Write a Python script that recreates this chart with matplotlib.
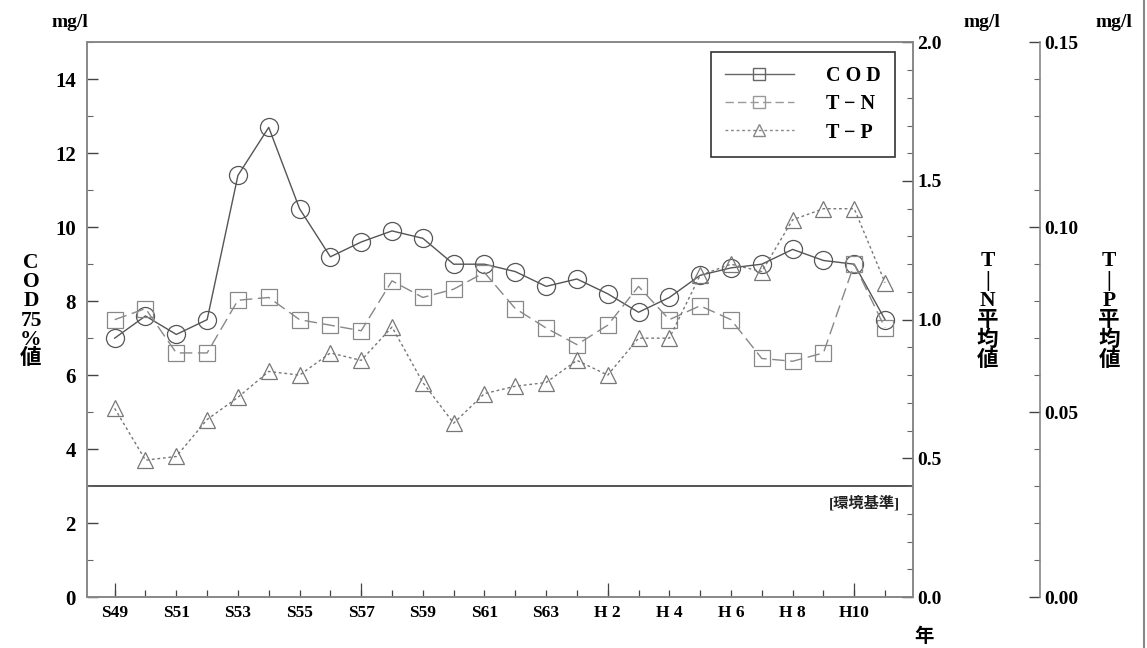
import matplotlib
matplotlib.use("Agg")
import matplotlib.pyplot as plt
from matplotlib.lines import Line2D
from matplotlib.ticker import MultipleLocator, FixedLocator, FormatStrFormatter

plt.rcParams['font.family'] = ['Liberation Serif', 'Noto Sans CJK JP']

# years S49..S63, H1..H11
years = list(range(26))
year_labels = ['S49', '', 'S51', '', 'S53', '', 'S55', '', 'S57', '', 'S59', '', 'S61', '',
               'S63', '', 'H 2', '', 'H 4', '', 'H 6', '', 'H 8', '', 'H10', '']

cod = [7.0, 7.6, 7.1, 7.5, 11.4, 12.7, 10.5, 9.2, 9.6, 9.9, 9.7, 9.0, 9.0,
       8.8, 8.4, 8.6, 8.2, 7.7, 8.1, 8.7, 8.9, 9.0, 9.4, 9.1, 9.0, 7.5]
tn = [1.00, 1.04, 0.88, 0.88, 1.07, 1.08, 1.00, 0.98, 0.96, 1.14, 1.08, 1.11, 1.17,
      1.04, 0.97, 0.91, 0.98, 1.12, 1.00, 1.05, 1.00, 0.86, 0.85, 0.88, 1.20, 0.97]
tp = [0.051, 0.037, 0.038, 0.048, 0.054, 0.061, 0.060, 0.066, 0.064, 0.073, 0.058,
      0.047, 0.055, 0.057, 0.058, 0.064, 0.060, 0.070, 0.070, 0.087, 0.090, 0.088,
      0.102, 0.105, 0.105, 0.085]
standard_cod = 3

fig = plt.figure(figsize=(11.47, 6.48), dpi=100)
ax = fig.add_axes([0.0758, 0.0787, 0.720, 0.856])
ax2 = ax.twinx()
ax3 = ax.twinx()

ax.set_xlim(-0.9, 25.9)
ax.set_ylim(0, 15)
ax2.set_ylim(0, 2.0)
ax3.set_ylim(0, 0.15)

# environmental standard
ax.axhline(standard_cod, color='#444444', lw=1.3, zorder=1)
ax.text(25.5, standard_cod - 0.25, '[環境基準]', ha='right', va='top',
        fontsize=11, fontweight='bold', color='#222222')

ax.plot(years, cod, '-', color='#555555', lw=1.0, marker='o', ms=13,
        mfc='none', mec='#555555', mew=0.9, zorder=3)
ax2.plot(years, tn, color='#888888', lw=1.0, ls=(0, (9, 4)), marker='s', ms=11,
         mfc='none', mec='#888888', mew=0.9, zorder=3)
ax3.plot(years, tp, color='#777777', lw=1.0, ls=(0, (2, 2)), marker='^', ms=11,
         mfc='none', mec='#777777', mew=0.9, zorder=3)

# x axis ticks
ax.set_xticks(years)
ax.set_xticklabels(year_labels, fontsize=12.5, fontweight='bold')
ax.xaxis.set_minor_locator(FixedLocator([0, 8, 16, 24]))
ax.xaxis.remove_overlapping_locs = False
ax.tick_params(axis='x', which='major', direction='in', length=5, width=0.9,
               color='#444444', pad=6, top=False)
ax.tick_params(axis='x', which='minor', direction='in', length=10, width=0.9,
               color='#444444', top=False)

# left axis
ax.yaxis.set_major_locator(MultipleLocator(2))
ax.yaxis.set_minor_locator(MultipleLocator(1))
ax.tick_params(axis='y', which='major', direction='in', length=8, width=1.0,
               labelsize=15, color='#444444', pad=8)
ax.tick_params(axis='y', which='minor', direction='in', length=4, width=0.8,
               color='#666666')
for t in ax.get_yticklabels():
    t.set_fontweight('bold')

# T-N axis
ax2.yaxis.set_major_locator(MultipleLocator(0.5))
ax2.yaxis.set_minor_locator(MultipleLocator(0.1))
ax2.yaxis.set_major_formatter(FormatStrFormatter('%.1f'))
ax2.tick_params(axis='y', which='major', direction='in', length=8, width=1.0,
                labelsize=14, color='#444444', pad=3)
ax2.tick_params(axis='y', which='minor', direction='in', length=4, width=0.8,
                color='#666666')
for t in ax2.get_yticklabels():
    t.set_fontweight('bold')

# T-P axis
ax3.spines['right'].set_position(('axes', 1.154))
ax3.spines['top'].set_visible(False)
ax3.spines['bottom'].set_visible(False)
ax3.spines['left'].set_visible(False)
ax3.yaxis.set_major_locator(MultipleLocator(0.05))
ax3.yaxis.set_minor_locator(MultipleLocator(0.01))
ax3.yaxis.set_major_formatter(FormatStrFormatter('%.2f'))
ax3.tick_params(axis='y', which='major', direction='in', length=8, width=1.0,
                labelsize=14, color='#444444', pad=3)
ax3.tick_params(axis='y', which='minor', direction='in', length=4, width=0.8,
                color='#666666')
for t in ax3.get_yticklabels():
    t.set_fontweight('bold')

for a in (ax, ax2):
    for s in a.spines.values():
        s.set_color('#888888')
        s.set_linewidth(1.2)
ax3.spines['right'].set_color('#888888')
ax3.spines['right'].set_linewidth(1.2)

# legend
handles = [
    Line2D([], [], color='#666666', lw=1.0, marker='s', ms=8, mfc='none'),
    Line2D([], [], color='#999999', lw=1.0, ls=(0, (6, 3)), marker='s', ms=8, mfc='none'),
    Line2D([], [], color='#888888', lw=1.0, ls=(0, (2, 2)), marker='^', ms=8, mfc='none'),
]
leg = ax3.legend(handles, ['C O D', 'T − N', 'T − P'], loc='upper right',
                 bbox_to_anchor=(0.978, 0.982), borderaxespad=0,
                 fancybox=False, framealpha=1,
                 edgecolor='#333333', handlelength=3.4, borderpad=0.7,
                 labelspacing=0.4, handletextpad=1.6,
                 prop={'size': 14.5, 'weight': 'bold'})
leg.get_frame().set_linewidth(1.2)
leg.set_zorder(10)

# axis titles
fig.text(0.045, 0.965, 'mg/l', fontsize=14, fontweight='bold', ha='left', va='center')
fig.text(0.840, 0.965, 'mg/l', fontsize=14, fontweight='bold', ha='left', va='center')
fig.text(0.955, 0.965, 'mg/l', fontsize=14, fontweight='bold', ha='left', va='center')
fig.text(0.027, 0.52, 'C\nO\nD\n75\n%\n値', fontsize=15.5, fontweight='bold',
         ha='center', va='center', linespacing=0.95)
fig.text(0.861, 0.52, 'T\n|\nN\n平\n均\n値', fontsize=15.5, fontweight='bold',
         ha='center', va='center', linespacing=1.0)
fig.text(0.967, 0.52, 'T\n|\nP\n平\n均\n値', fontsize=15.5, fontweight='bold',
         ha='center', va='center', linespacing=1.0)
fig.text(0.806, 0.018, '年', fontsize=14, fontweight='bold', ha='center', va='center')

# right border line of page
fig.add_artist(Line2D([0.997, 0.997], [0.0, 1.0], color='#888888', lw=1.5))

fig.savefig('out.png', dpi=100)
